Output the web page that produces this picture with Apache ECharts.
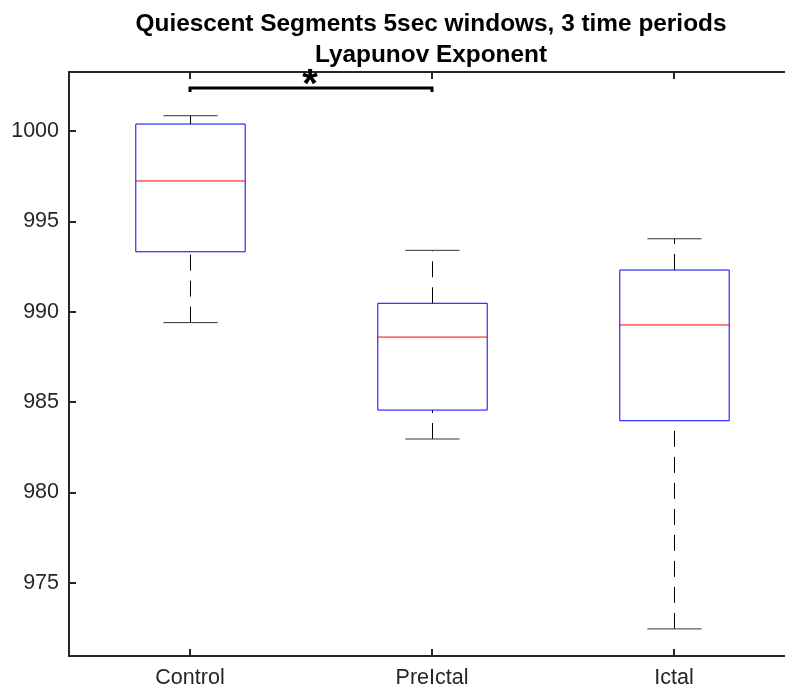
<!DOCTYPE html>
<html>
<head>
<meta charset="utf-8">
<script src="https://cdn.jsdelivr.net/npm/echarts@6/dist/echarts.min.js"></script>
<style>html,body{margin:0;padding:0;background:#fff;overflow:hidden;}#chart{width:785px;height:692px;}</style>
</head>
<body>
<div id="chart"></div>
<script>
// ---- data ----
var categories = ['Control', 'PreIctal', 'Ictal'];
var lowerWhisker = [989.39, 982.95, 972.44];
var q1Values = [993.31, 984.55, 983.96];
var medianValues = [997.23, 988.59, 989.26];
var q3Values = [1000.38, 990.46, 992.30];
var upperWhisker = [1000.84, 993.39, 994.03];
var yTickValues = [975, 980, 985, 990, 995, 1000];
var sigPairs = [[0, 1]];
var sigLevel = 1002.37;
var sigEndLevel = 1002.15;
var sigLabel = '*';
var titleText = 'Quiescent Segments 5sec windows, 3 time periods\nLyapunov Exponent';

var boxData = categories.map(function (c, i) {
  return [i, lowerWhisker[i], q1Values[i], medianValues[i], q3Values[i], upperWhisker[i]];
});
var sigData = sigPairs.map(function (p) { return [p[0], p[1], sigLevel, sigEndLevel]; });

var axisColor = '#262626';
var fontFam = '"Liberation Sans", Arial, Helvetica, sans-serif';

var chart = echarts.init(document.getElementById('chart'), null, {renderer: 'canvas'});
chart.setOption({
  animation: false,
  title: {
    text: titleText,
    left: 426,
    top: 4,
    textAlign: 'center',
    textStyle: {fontFamily: fontFam, fontSize: 24.4, fontWeight: 'bold', color: '#000', lineHeight: 31}
  },
  grid: {show: false, left: 69, width: 726, top: 72, bottom: 36, containLabel: false, outerBoundsMode: 'none'},
  xAxis: [{
    type: 'category',
    data: categories,
    position: 'bottom',
    boundaryGap: true,
    axisLine: {show: true, lineStyle: {color: axisColor, width: 2}},
    axisTick: {show: true, inside: true, length: 7, alignWithLabel: true, lineStyle: {color: axisColor, width: 2}},
    axisLabel: {show: true, margin: 11, fontFamily: fontFam, fontSize: 21.5, color: axisColor},
    splitLine: {show: false}
  }, {
    type: 'category',
    data: categories,
    position: 'top',
    boundaryGap: true,
    axisLine: {show: true, lineStyle: {color: axisColor, width: 2}},
    axisTick: {show: true, inside: true, length: 7, alignWithLabel: true, lineStyle: {color: axisColor, width: 2}},
    axisLabel: {show: false},
    splitLine: {show: false}
  }],
  yAxis: {
    type: 'value',
    min: 970.94,
    max: 1003.26,
    axisLine: {show: true, lineStyle: {color: axisColor, width: 2}},
    axisTick: {show: true, inside: true, length: 7, customValues: yTickValues, lineStyle: {color: axisColor, width: 2}},
    axisLabel: {show: true, margin: 10, customValues: yTickValues, fontFamily: fontFam, fontSize: 21.5, color: axisColor,
      formatter: function (v) { return String(v); }},
    splitLine: {show: false}
  },
  series: [{
    type: 'custom',
    xAxisIndex: 0,
    data: boxData,
    renderItem: function (params, api) {
      var idx = api.value(0);
      var band = api.size([1, 0])[0];
      var halfBox = band * 0.226;
      var halfCap = band * 0.112;
      var pLow = api.coord([idx, api.value(1)]);
      var pQ1 = api.coord([idx, api.value(2)]);
      var pMed = api.coord([idx, api.value(3)]);
      var pQ3 = api.coord([idx, api.value(4)]);
      var pHigh = api.coord([idx, api.value(5)]);
      var cx = Math.round(pQ1[0]) + 0.5;
      var dash = {stroke: '#000', lineWidth: 1, lineDash: [16, 10]};
      var cap = {stroke: '#333', lineWidth: 1};
      return {
        type: 'group',
        children: [
          {type: 'line', shape: {x1: cx, y1: pQ3[1], x2: cx, y2: pHigh[1]}, style: dash},
          {type: 'line', shape: {x1: cx, y1: pLow[1], x2: cx, y2: pQ1[1]}, style: dash},
          {type: 'line', shape: {x1: cx - halfCap, y1: pHigh[1], x2: cx + halfCap, y2: pHigh[1]}, style: cap},
          {type: 'line', shape: {x1: cx - halfCap, y1: pLow[1], x2: cx + halfCap, y2: pLow[1]}, style: cap},
          {type: 'rect', shape: {x: cx - halfBox, y: pQ3[1], width: halfBox * 2, height: pQ1[1] - pQ3[1]},
            style: {fill: 'none', stroke: '#0000ff', lineWidth: 1}},
          {type: 'line', shape: {x1: cx - halfBox, y1: pMed[1], x2: cx + halfBox, y2: pMed[1]},
            style: {stroke: '#ff0000', lineWidth: 1}}
        ]
      };
    }
  }, {
    type: 'custom',
    xAxisIndex: 0,
    data: sigData,
    renderItem: function (params, api) {
      var a = api.coord([api.value(0), api.value(2)]);
      var b = api.coord([api.value(1), api.value(2)]);
      var ea = api.coord([api.value(0), api.value(3)]);
      var eb = api.coord([api.value(1), api.value(3)]);
      return {
        type: 'group',
        children: [
          {type: 'polyline', shape: {points: [[a[0], ea[1]], [a[0], a[1]], [b[0], b[1]], [b[0], eb[1]]]},
            style: {stroke: '#000', lineWidth: 3, fill: 'none'}},
          {type: 'text', x: (a[0] + b[0]) / 2 - 1, y: a[1] - 2,
            style: {text: sigLabel, fontFamily: fontFam, fontWeight: 'bold', fontSize: 40, fill: '#000',
              align: 'center', verticalAlign: 'middle'}}
        ]
      };
    }
  }]
});
</script>
</body>
</html>
